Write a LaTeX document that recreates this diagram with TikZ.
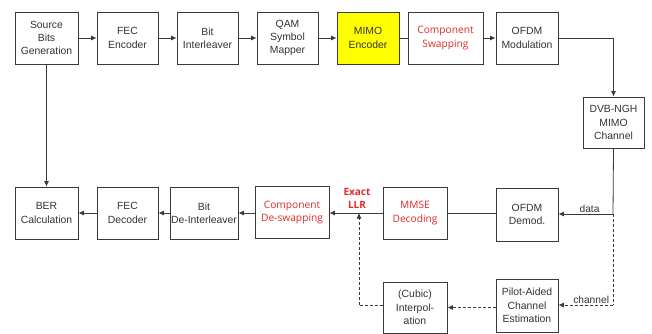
\documentclass[tikz,border=0pt]{standalone}
\usepackage{fontspec}
\setmainfont{Liberation Sans}
\newfontfamily\redfont{Open Sans}
\usetikzlibrary{arrows.meta}
\definecolor{txt}{HTML}{333333}
\definecolor{edge}{HTML}{3A3A3A}
\definecolor{redtxt}{HTML}{E32A2A}
\definecolor{mimoyel}{HTML}{FFFF00}
\tikzset{
  blk/.style={draw=edge, line width=0.8pt, fill=white, inner sep=1pt, align=center,
    minimum width=#1, minimum height=52pt, text=txt, font=\fontsize{10.4}{13.3}\selectfont},
  blk/.default=61pt,
  redblk/.style={blk=#1, text=redtxt, font=\redfont\fontsize{10.2}{13.3}\selectfont},
  conn/.style={draw=edge, line width=0.8pt},
  arr/.style={conn, -{Latex[length=5.5pt,width=5pt]}},
  darr/.style={arr, dashed, dash pattern=on 3pt off 2pt},
  dline/.style={conn, dashed, dash pattern=on 3pt off 2pt},
  lbl/.style={text=txt, font=\fontsize{10.2}{12}\selectfont, inner sep=1pt}
}
\begin{document}
\begin{tikzpicture}[x=1pt,y=-1pt]
\useasboundingbox[fill=white] (0,0) rectangle (652,334);
% top row
\node[blk=63pt] (src) at (46.5,38) {Source\\Bits\\Generation};
\node[blk] (fece) at (127.5,38) {FEC\\Encoder};
\node[blk] (bil) at (207.5,38) {Bit\\Interleaver};
\node[blk] (qam) at (287.5,38) {QAM\\Symbol\\Mapper};
\node[blk=62pt, fill=mimoyel] (mimo) at (368,38) {MIMO\\Encoder};
\node[redblk=75pt] (swap) at (445.5,38) {Component\\Swapping};
\node[blk=62pt] (ofdm) at (527,38) {OFDM\\Modulation};
\node[blk=61pt, minimum height=51pt] (dvb) at (613.5,122.5) {DVB-NGH\\MIMO\\Channel};
% bottom row
\node[blk=63pt] (ber) at (46.5,213) {BER\\Calculation};
\node[blk] (fecd) at (127.5,213) {FEC\\Decoder};
\node[blk=68pt, inner sep=0pt] (bdi) at (204,213) {Bit\\De-Interleaver};
\node[redblk=74pt] (cds) at (292,212.5) {Component\\De-swapping};
\node[redblk=64pt] (mmse) at (415,213) {MMSE\\Decoding};
\node[blk=62pt, minimum height=53pt] (odem) at (527,214.5) {OFDM\\Demod.};
\node[blk=64pt, minimum height=51pt] (cubic) at (415,307.5) {(Cubic)\\Interpol-\\ation};
\node[blk=62pt, minimum height=53pt, inner sep=0pt] (pilot) at (527,305.5) {Pilot-Aided\\Channel\\Estimation};
% coordinates
\coordinate (j1) at (613,214);
\coordinate (j2) at (613,305);
\coordinate (llr) at (359,213);
\coordinate (llrlow) at (359,305);
% labels
\node[text=redtxt, font=\redfont\bfseries\fontsize{10}{12.5}\selectfont, align=center, inner sep=0pt] (exact) at (357,198.5) {Exact\\LLR};
% connectors top
\draw[arr] (src) -- (fece);
\draw[arr] (fece) -- (bil);
\draw[arr] (bil) -- (qam);
\draw[arr] (qam) -- (mimo);
\draw[conn] (mimo) -- (swap);
\draw[arr] (swap) -- (ofdm);
\draw[arr] (ofdm.east) -| (dvb.north);
\draw[arr] (src.south) -- (ber.north);
% receiver
\draw[conn] (dvb.south) -- (j1);
\draw[arr] (j1) -- node[lbl, above, pos=0.43] {data} (odem.east |- j1);
\draw[conn] (odem.west |- mmse) -- (mmse.east);
\draw[arr] (mmse.west) -- (cds.east |- mmse.west);
\draw[arr] (cds.west |- bdi) -- (bdi.east);
\draw[arr] (bdi) -- (fecd);
\draw[arr] (fecd) -- (ber);
% channel estimation path
\draw[dline] (j1) -- (j2);
\draw[darr] (j2) -- node[lbl, above, pos=0.4] {channel} (pilot.east |- j2);
\draw[darr] (pilot.west |- cubic) -- (cubic.east);
\draw[dline] (cubic.west |- llrlow) -- (llrlow);
\draw[darr] (llrlow) -- (llr);
\end{tikzpicture}
\end{document}
